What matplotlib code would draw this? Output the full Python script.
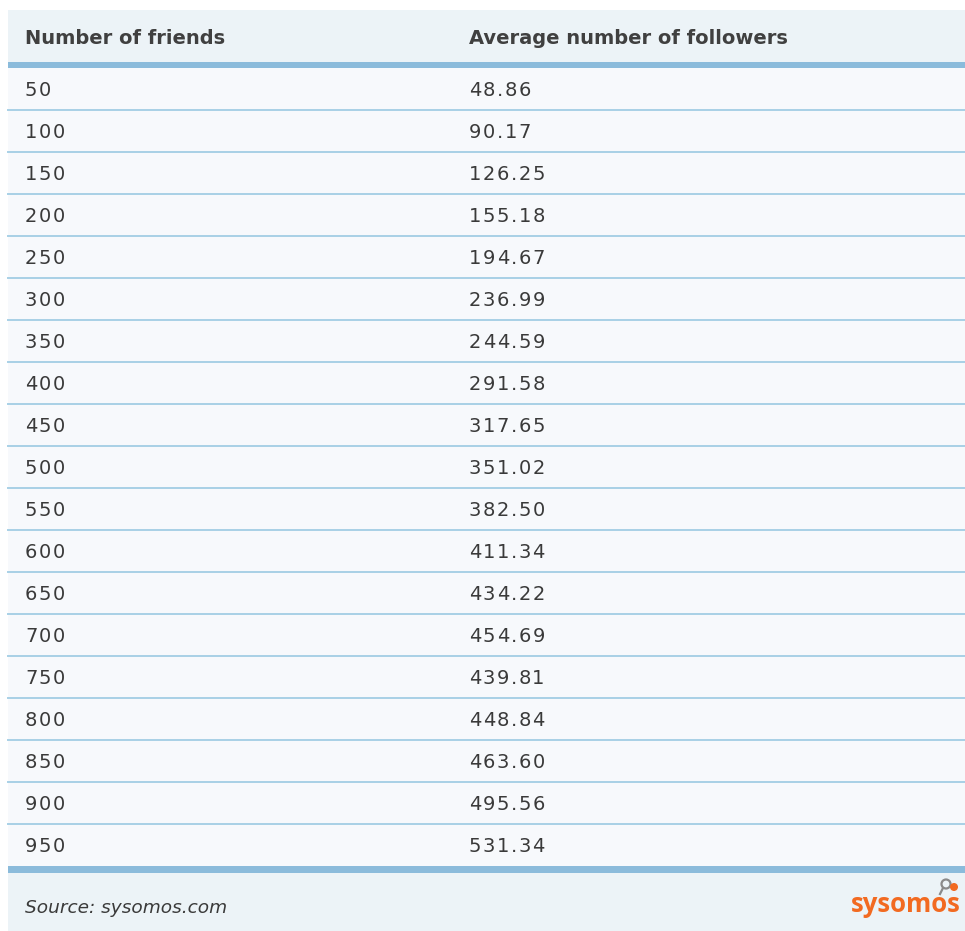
import matplotlib.pyplot as plt
from matplotlib.patches import Rectangle, Circle
from matplotlib import font_manager, ft2font

friends = [50, 100, 150, 200, 250, 300, 350, 400, 450, 500,
           550, 600, 650, 700, 750, 800, 850, 900, 950]
followers = ["48.86", "90.17", "126.25", "155.18", "194.67", "236.99",
             "244.59", "291.58", "317.65", "351.02", "382.50", "411.34",
             "434.22", "454.69", "439.81", "448.84", "463.60", "495.56",
             "531.34"]
headers = ["Number of friends", "Average number of followers"]
source = "Source: sysomos.com"

W, H = 965, 931
fig = plt.figure(figsize=(W / 100, H / 100), dpi=100)
ax = fig.add_axes([0, 0, 1, 1])
ax.set_xlim(0, W)
ax.set_ylim(H, 0)
ax.axis('off')

left = 8
top = 10
head_h = 52
thick = 6
row_h = 42
col_x = [25, 469]
txt = '#3a3a3a'
line_c = '#a8d0e6'
thick_c = '#8bbbdb'
orange = '#f26a21'

body_size = 14
track = 1.5
font = ft2font.FT2Font(font_manager.findfont('DejaVu Sans'))
font.set_size(body_size, 100)


def spaced(x, y, s):
    # verdana-like wide spacing, one glyph at a time
    for c in s:
        ax.text(x, y, c, fontsize=body_size, color=txt, va='baseline')
        x += font.load_char(ord(c)).linearHoriAdvance / 65536 + track


# header
ax.add_patch(Rectangle((left, top), W - left, head_h, color='#ecf3f7', lw=0))
for x, h in zip(col_x, headers):
    ax.text(x, 44, h, fontsize=14, color='#404040', va='baseline',
            ha='left', fontweight='bold')
ax.add_patch(Rectangle((left, top + head_h), W - left, thick, color=thick_c, lw=0))

# body
y0 = top + head_h + thick
n = len(friends)
ax.add_patch(Rectangle((left, y0), W - left, n * row_h, color='#f7f9fc', lw=0))
for i, (f, v) in enumerate(zip(friends, followers)):
    yb_txt = y0 + i * row_h + 28
    spaced(col_x[0], yb_txt, str(f))
    spaced(col_x[1], yb_txt, v)
    if i < n - 1:
        yl = y0 + (i + 1) * row_h
        ax.plot([left, W], [yl, yl], color=line_c, lw=1.4)

yb = y0 + n * row_h
ax.add_patch(Rectangle((left, yb), W - left, 7, color=thick_c, lw=0))

# footer
ax.add_patch(Rectangle((left, yb + 7), W - left, H - yb - 7, color='#ecf3f7', lw=0))
ax.text(col_x[0], 913, source, fontsize=13.3, color=txt, style='italic', va='baseline')
ax.text(961, 912, "sysomos", fontsize=18.5, color=orange, fontweight='bold',
        family='Open Sans', ha='right', va='baseline')
ax.add_patch(Circle((946, 884), 4.5, fill=False, ec='#8a8a8a', lw=1.6))
ax.plot([943, 940], [888, 894], color='#8a8a8a', lw=1.6)
ax.add_patch(Circle((954, 887), 4, color=orange, lw=0))

fig.savefig('out.png', dpi=100)
